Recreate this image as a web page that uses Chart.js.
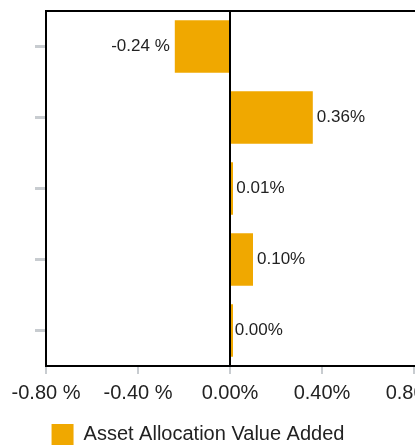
<!DOCTYPE html>
<html>
<head>
<meta charset="utf-8">
<script src="https://cdn.jsdelivr.net/npm/chart.js@4/dist/chart.umd.min.js"></script>
<style>
  html, body { margin: 0; padding: 0; background: #fff; overflow: hidden; }
  body { width: 415px; height: 446px; position: relative; }
  #wrap { position: absolute; left: -18px; top: 0; width: 440px; height: 455px; }
</style>
</head>
<body>
<div id="wrap"><canvas id="allocChart"></canvas></div>
<script>
const categories = ["1", "2", "3", "4", "5"];
const valueAdded = [-0.24, 0.36, 0.01, 0.10, 0.003];
const xTicks = [-0.8, -0.4, 0, 0.4, 0.8];
const seriesName = "Asset Allocation Value Added";

const FONT = "'Liberation Sans', Arial, sans-serif";
const TEXT = "#222";
const TICK_GREY = "#c8ccd0";

function pct(v) {
  // negatives carry a space before the sign
  return v < 0 ? v.toFixed(2) + " %" : Math.abs(v).toFixed(2) + "%";
}

// line along the top of the plot area
const frame = {
  id: "frame",
  afterDraw(chart) {
    const a = chart.chartArea;
    const c = chart.ctx;
    c.save();
    c.strokeStyle = "#000";
    c.lineWidth = 2;
    c.beginPath();
    c.moveTo(a.left - 1, a.top);
    c.lineTo(a.right + 20, a.top);
    c.stroke();
    c.restore();
  },
};

// value text at the end of each bar
const barValues = {
  id: "barValues",
  afterDatasetsDraw(chart) {
    const c = chart.ctx;
    const x = chart.scales.x;
    const meta = chart.getDatasetMeta(0);
    c.save();
    c.font = "17px " + FONT;
    c.fillStyle = TEXT;
    c.textBaseline = "middle";
    meta.data.forEach((bar, i) => {
      const v = valueAdded[i];
      const px = x.getPixelForValue(v);
      if (v < 0) {
        c.textAlign = "right";
        c.fillText(pct(v), px - 5, bar.y);
      } else {
        c.textAlign = "left";
        c.fillText(pct(v), px + 4, bar.y);
      }
    });
    c.restore();
  },
};

new Chart(document.getElementById("allocChart"), {
  type: "bar",
  data: {
    labels: categories,
    datasets: [
      {
        label: seriesName,
        data: valueAdded,
        backgroundColor: "#f0a800",
        borderWidth: 0,
        categoryPercentage: 0.8,
        barPercentage: 0.92,
        minBarLength: 3,
      },
    ],
  },
  options: {
    indexAxis: "y",
    responsive: true,
    maintainAspectRatio: false,
    animation: false,
    layout: { padding: { top: 11, right: 8, bottom: 0, left: 0 } },
    plugins: {
      tooltip: { enabled: false },
      legend: {
        position: "bottom",
        labels: {
          boxWidth: 22,
          boxHeight: 21,
          color: TEXT,
          padding: 3,
          font: { family: FONT, size: 20 },
        },
      },
    },
    scales: {
      x: {
        type: "linear",
        min: -0.8,
        max: 0.8,
        afterBuildTicks(scale) {
          scale.ticks = xTicks.map((v) => ({ value: v }));
        },
        afterFit(scale) {
          scale.paddingLeft = 0;
          scale.paddingRight = 0;
          scale.height = 55;
        },
        border: { display: true, color: "#000", width: 2 },
        grid: {
          color: (c) => (c.tick && c.tick.value === 0 ? "#000" : "rgba(0,0,0,0)"),
          lineWidth: 2,
          tickColor: TICK_GREY,
          tickWidth: 2,
          tickLength: 8,
        },
        ticks: {
          color: TEXT,
          padding: 7,
          maxRotation: 0,
          font: { family: FONT, size: 20 },
          callback: (v) => pct(v),
        },
      },
      y: {
        type: "category",
        afterFit(scale) {
          scale.width = 64;
        },
        border: { display: true, color: "#000", width: 2 },
        grid: {
          offset: false,
          drawOnChartArea: false,
          tickColor: TICK_GREY,
          tickWidth: 3,
          tickLength: 11,
        },
        ticks: { display: false },
      },
    },
  },
  plugins: [frame, barValues],
});
</script>
</body>
</html>
